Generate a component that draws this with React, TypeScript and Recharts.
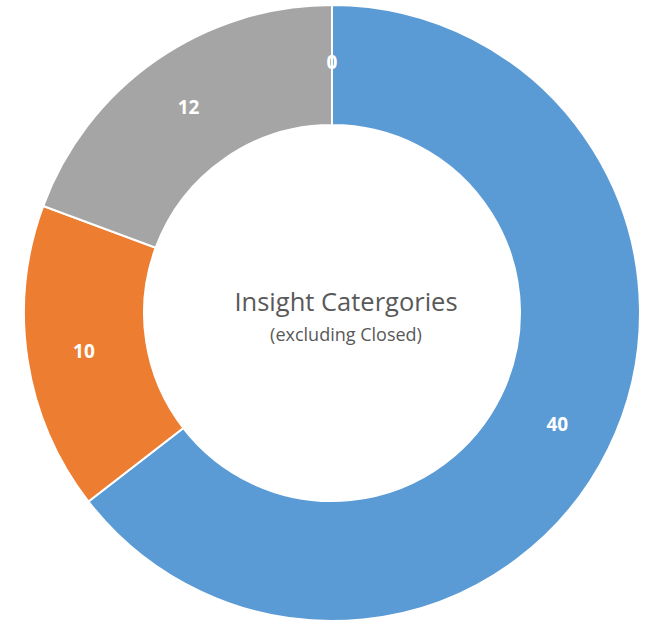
import { PieChart, Pie, Cell } from 'recharts'

const categories = ['A', 'B', 'C', 'D']
const values = [40, 10, 12, 0]
const colors = ['#5B9BD5', '#ED7D31', '#A5A5A5', '#FFC000']
const title = 'Insight Catergories'
const subtitle = '(excluding Closed)'

const data = categories.map((name, i) => ({ name, value: values[i] }))

const CX = 332
const CY = 313
const RADIAN = Math.PI / 180
const FONT = "'Open Sans', Lato, sans-serif"

const renderLabel = (props: any) => {
  const { cx, cy, midAngle, innerRadius, outerRadius, value } = props
  const r = (innerRadius + outerRadius) / 2 + 3
  const x = cx + r * Math.cos(-midAngle * RADIAN)
  const y = cy + r * Math.sin(-midAngle * RADIAN)
  return (
    <text
      x={x}
      y={y}
      fill="#ffffff"
      textAnchor="middle"
      dominantBaseline="central"
      fontFamily={FONT}
      fontWeight="bold"
      fontSize={19}
    >
      {value}
    </text>
  )
}

export default function App() {
  return (
    <div style={{ position: 'absolute', top: 0, left: 0, width: 649, height: 624, background: '#fff' }}>
      <PieChart width={649} height={624} margin={{ top: 0, right: 0, bottom: 0, left: 0 }}>
        <Pie
          data={data}
          dataKey="value"
          cx={CX}
          cy={CY}
          innerRadius={188}
          outerRadius={308}
          startAngle={90}
          endAngle={-270}
          stroke="#ffffff"
          strokeWidth={2}
          label={renderLabel}
          labelLine={false}
          isAnimationActive={false}
        >
          {data.map((d, i) => (
            <Cell key={d.name} fill={colors[i]} />
          ))}
        </Pie>
      </PieChart>
      <div
        style={{
          position: 'absolute',
          left: 346 - 160,
          width: 320,
          top: 284,
          textAlign: 'center',
          fontFamily: FONT,
          color: '#595959',
        }}
      >
        <div style={{ fontSize: 25.5, lineHeight: '34px' }}>{title}</div>
        <div style={{ fontSize: 18, lineHeight: '24px', marginTop: 4 }}>{subtitle}</div>
      </div>
    </div>
  )
}
